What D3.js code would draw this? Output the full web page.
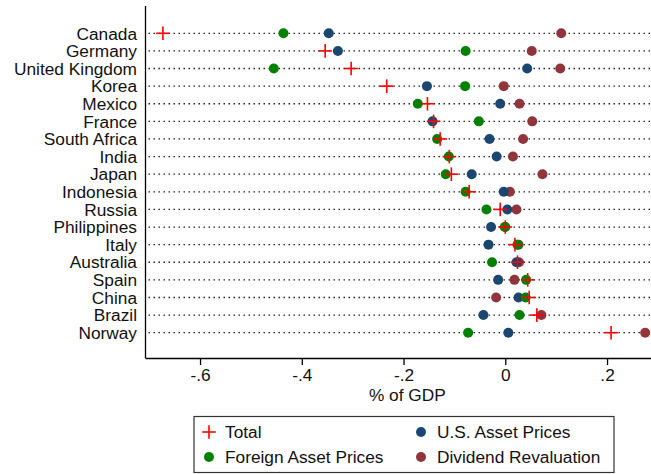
<!DOCTYPE html>
<html>
<head>
<meta charset="utf-8">
<script src="https://cdn.jsdelivr.net/npm/d3@7"></script>
<style>
  html, body { margin: 0; padding: 0; background: #fff; }
  svg { display: block; font-family: "Liberation Sans", Arial, sans-serif; }
</style>
</head>
<body>
<svg id="chart" width="651" height="474"></svg>
<script>
const countries = ["Canada","Germany","United Kingdom","Korea","Mexico","France","South Africa","India","Japan","Indonesia","Russia","Philippines","Italy","Australia","Spain","China","Brazil","Norway"];
const total      = [-0.673,-0.354,-0.303,-0.233,-0.153,-0.141,-0.128,-0.110,-0.106,-0.071,-0.010, 0.000, 0.019, 0.024, 0.044, 0.047, 0.062, 0.208];
const usPrices   = [-0.347,-0.329, 0.043,-0.154,-0.010,-0.143,-0.031,-0.017,-0.066,-0.003, 0.004,-0.028,-0.033, 0.022,-0.014, 0.026,-0.043, 0.006];
const foreign    = [-0.436,-0.078,-0.455,-0.079,-0.172,-0.052,-0.134,-0.111,-0.117,-0.078,-0.037,-0.001, 0.024,-0.026, 0.041, 0.040, 0.028,-0.073];
const dividend   = [ 0.110, 0.052, 0.108,-0.003, 0.028, 0.053, 0.035, 0.015, 0.073, 0.009, 0.022, 0.000, 0.026, 0.027, 0.018,-0.018, 0.071, 0.275];
const xTicks = [-0.6, -0.4, -0.2, 0, 0.2];
const xTickLabels = ["-.6", "-.4", "-.2", "0", ".2"];
const legendLabels = ["Total", "U.S. Asset Prices", "Foreign Asset Prices", "Dividend Revaluation"];

const colors = { total: "#ff0000", us: "#1a476f", foreign: "#008000", dividend: "#90353b" };

const svg = d3.select("#chart");
const plotLeft = 145.5, plotTop = 6, plotBottom = 358;
const fs = 17.3;

const x = d3.scaleLinear().domain([-0.7076, 0.31]).range([145.3, 663.0]);
const y = d3.scalePoint().domain(countries).range([33.3, 332.7]);

// dotted grid lines
svg.append("g").selectAll("line").data(countries).join("line")
  .attr("x1", plotLeft + 3).attr("x2", 651)
  .attr("y1", d => y(d)).attr("y2", d => y(d))
  .attr("stroke", "#222").attr("stroke-width", 1.3)
  .attr("stroke-dasharray", "1.5,3.5");

// left spine
svg.append("line").attr("x1", plotLeft).attr("x2", plotLeft)
  .attr("y1", plotTop).attr("y2", plotBottom)
  .attr("stroke", "#000").attr("stroke-width", 1.3);

// country labels
svg.append("g").selectAll("text").data(countries).join("text")
  .attr("x", 137).attr("y", d => y(d)).attr("dy", "0.36em")
  .attr("text-anchor", "end").attr("font-size", fs).attr("fill", "#111")
  .text(d => d);

// x axis
const xAxis = d3.axisBottom(x).tickValues(xTicks)
  .tickFormat((d, i) => xTickLabels[i]).tickSize(7).tickSizeOuter(0).tickPadding(4);
const gx = svg.append("g").attr("transform", `translate(0,${plotBottom})`).call(xAxis);
gx.select(".domain").attr("stroke", "#000").attr("stroke-width", 1.3)
  .attr("d", `M${plotLeft},0.5H651`);
gx.selectAll(".tick line").attr("stroke", "#000").attr("stroke-width", 1.3);
gx.selectAll(".tick text").attr("font-size", fs).attr("fill", "#111")
  .attr("font-family", '"Liberation Sans", Arial, sans-serif');

svg.append("text").attr("x", x(-0.1925)).attr("y", 401)
  .attr("text-anchor", "middle").attr("font-size", fs).attr("fill", "#111")
  .text("% of GDP");

// markers
const r = 5;
function dots(vals, color) {
  svg.append("g").selectAll("circle").data(countries).join("circle")
    .attr("cx", (d, i) => x(vals[i])).attr("cy", d => y(d))
    .attr("r", r).attr("fill", color);
}
dots(dividend, colors.dividend);
dots(usPrices, colors.us);
dots(foreign, colors.foreign);

const ps = 6.8;
const plus = svg.append("g").selectAll("g").data(countries).join("g")
  .attr("transform", (d, i) => `translate(${x(total[i])},${y(d)})`);
plus.append("line").attr("x1", -ps).attr("x2", ps).attr("y1", 0).attr("y2", 0)
  .attr("stroke", colors.total).attr("stroke-width", 1.6);
plus.append("line").attr("x1", 0).attr("x2", 0).attr("y1", -ps).attr("y2", ps)
  .attr("stroke", colors.total).attr("stroke-width", 1.6);

// legend
const lg = svg.append("g");
lg.append("rect").attr("x", 194).attr("y", 416.5).attr("width", 420).attr("height", 56)
  .attr("fill", "#fff").attr("stroke", "#333").attr("stroke-width", 1.2);
const items = [
  { label: legendLabels[0], type: "plus", color: colors.total, sx: 209, ty: 432 },
  { label: legendLabels[1], type: "dot", color: colors.us, sx: 421, ty: 432 },
  { label: legendLabels[2], type: "dot", color: colors.foreign, sx: 209, ty: 457 },
  { label: legendLabels[3], type: "dot", color: colors.dividend, sx: 421, ty: 457 }
];
items.forEach(it => {
  if (it.type === "plus") {
    lg.append("line").attr("x1", it.sx - ps).attr("x2", it.sx + ps).attr("y1", it.ty).attr("y2", it.ty)
      .attr("stroke", it.color).attr("stroke-width", 1.6);
    lg.append("line").attr("x1", it.sx).attr("x2", it.sx).attr("y1", it.ty - ps).attr("y2", it.ty + ps)
      .attr("stroke", it.color).attr("stroke-width", 1.6);
  } else {
    lg.append("circle").attr("cx", it.sx).attr("cy", it.ty).attr("r", r).attr("fill", it.color);
  }
  lg.append("text").attr("x", it.sx + 16).attr("y", it.ty).attr("dy", "0.36em")
    .attr("font-size", fs).attr("fill", "#111").text(it.label);
});
</script>
</body>
</html>
